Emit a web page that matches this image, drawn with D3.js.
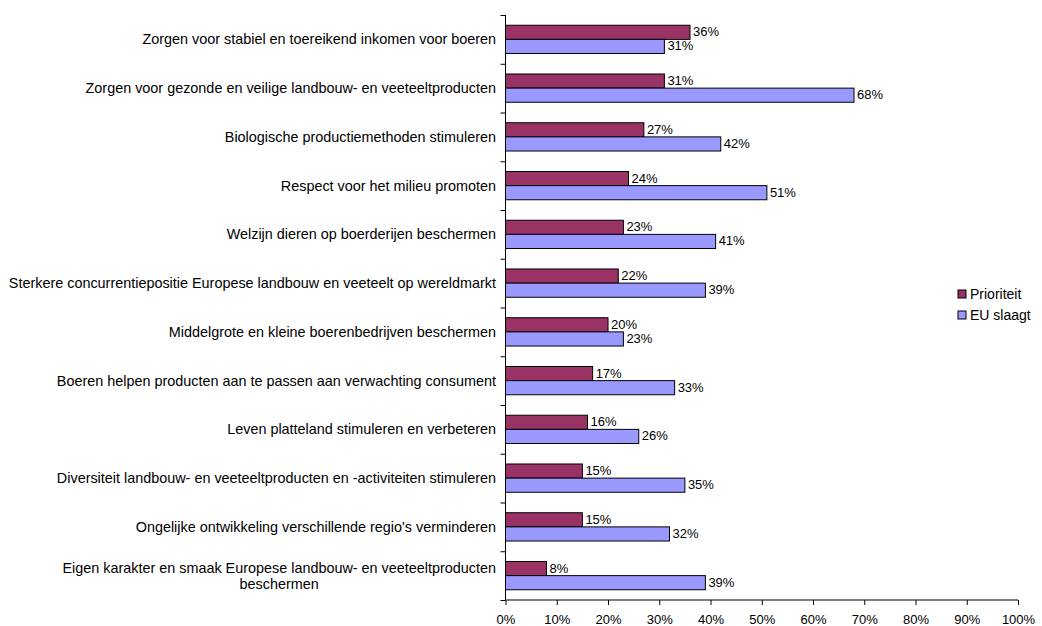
<!DOCTYPE html>
<html>
<head>
<meta charset="utf-8">
<script src="https://cdn.jsdelivr.net/npm/d3@7"></script>
<style>
    body { margin: 0; background: #fff; }
    text { font-family: "Liberation Sans", Arial, sans-serif; font-size: 13px; fill: #000; }
    .cat { font-size: 14.4px; }
    .val { font-size: 13px; }
    .leg { font-size: 14px; }
</style>
</head>
<body>
<div id="chart"></div>
<script>
// data
const categories = [
    "Zorgen voor stabiel en toereikend inkomen voor boeren",
    "Zorgen voor gezonde en veilige landbouw- en veeteeltproducten",
    "Biologische productiemethoden stimuleren",
    "Respect voor het milieu promoten",
    "Welzijn dieren op boerderijen beschermen",
    "Sterkere concurrentiepositie Europese landbouw en veeteelt op wereldmarkt",
    "Middelgrote en kleine boerenbedrijven beschermen",
    "Boeren helpen producten aan te passen aan verwachting consument",
    "Leven platteland stimuleren en verbeteren",
    "Diversiteit landbouw- en veeteeltproducten en -activiteiten stimuleren",
    "Ongelijke ontwikkeling verschillende regio's verminderen",
    "Eigen karakter en smaak Europese landbouw- en veeteeltproducten|beschermen"
];
const prioriteit = [36, 31, 27, 24, 23, 22, 20, 17, 16, 15, 15, 8];
const euSlaagt = [31, 68, 42, 51, 41, 39, 23, 33, 26, 35, 32, 39];
const seriesNames = ["Prioriteit", "EU slaagt"];
const xTicks = [0, 10, 20, 30, 40, 50, 60, 70, 80, 90, 100];

const colors = ["#993366", "#9999FF"];

const margin = { top: 15, left: 505.5 };
const width = 512.5, height = 585;

const svg = d3.select("#chart").append("svg")
    .attr("width", 1042)
    .attr("height", 626);

const g = svg.append("g")
    .attr("transform", "translate(" + margin.left + "," + margin.top + ")");

const x = d3.scaleLinear().domain([0, 100]).range([0, width]);
const y = d3.scaleBand().domain(d3.range(categories.length)).range([0, height]);
const barH = y.bandwidth() * 0.29;
const groupOffset = (y.bandwidth() - 2 * barH) / 2;

// bars
const series = [prioriteit, euSlaagt];
series.forEach((vals, s) => {
    g.selectAll(".bar-" + s)
        .data(vals)
        .enter().append("rect")
        .attr("class", "bar-" + s)
        .attr("x", 0)
        .attr("y", (d, i) => y(i) + groupOffset + s * barH)
        .attr("width", d => x(d))
        .attr("height", barH)
        .style("fill", colors[s])
        .style("stroke", "#000")
        .style("stroke-width", 1);

    g.selectAll(".lbl-" + s)
        .data(vals)
        .enter().append("text")
        .attr("class", "val lbl-" + s)
        .attr("x", d => x(d) + 3)
        .attr("y", (d, i) => y(i) + groupOffset + s * barH + barH / 2 + 4)
        .text(d => d + "%");
});

// axes
const xAxis = d3.axisBottom(x).tickValues(xTicks).tickSize(5).tickFormat(d => d + "%");
const gx = g.append("g")
    .attr("transform", "translate(0," + height + ")")
    .call(xAxis);
gx.selectAll("text").attr("dy", "1.25em").style("font-size", "13px").style("font-family", null);
gx.select(".domain").attr("d", "M0,0H" + width);

const yAxis = d3.axisLeft(d3.scaleLinear().domain([0, categories.length]).range([0, height]))
    .tickValues(d3.range(categories.length + 1)).tickSize(5).tickFormat("");
const gy = g.append("g").call(yAxis);
gy.select(".domain").attr("d", "M0,0V" + height);
svg.selectAll(".domain, .tick line").style("stroke", "#000");

// category labels
categories.forEach((c, i) => {
    const lines = c.split("|");
    const cy = margin.top + y(i) + y.bandwidth() / 2;
    if (lines.length === 1) {
        svg.append("text")
            .attr("class", "cat")
            .attr("x", 496)
            .attr("y", cy + 5)
            .style("text-anchor", "end")
            .text(c);
    } else {
        const t = svg.append("text")
            .attr("class", "cat")
            .attr("y", cy - 3)
            .style("text-anchor", "middle");
        const tmp = svg.append("text").attr("class", "cat").text(lines[0]);
        const w = tmp.node().getComputedTextLength();
        tmp.remove();
        const mid = 496 - w / 2;
        lines.forEach((l, k) => {
            t.append("tspan").attr("x", mid).attr("dy", k === 0 ? 0 : 16).text(l);
        });
    }
});

// legend
const legend = svg.append("g").attr("transform", "translate(958,290)");
seriesNames.forEach((n, s) => {
    legend.append("rect")
        .attr("x", 0)
        .attr("y", s * 21)
        .attr("width", 8)
        .attr("height", 8)
        .style("fill", colors[s])
        .style("stroke", "#000");
    legend.append("text")
        .attr("class", "leg")
        .attr("x", 12)
        .attr("y", s * 21 + 9)
        .text(n);
});
</script>
</body>
</html>
